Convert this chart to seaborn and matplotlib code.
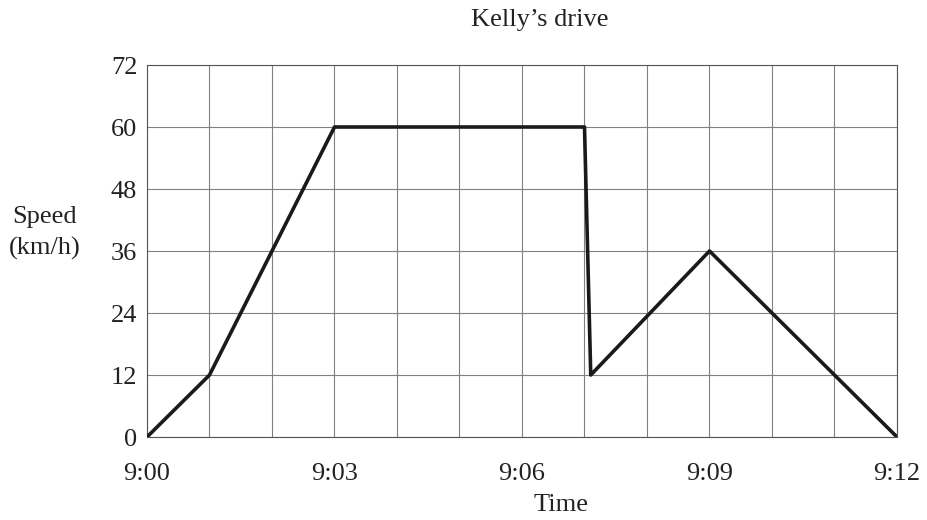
import matplotlib
matplotlib.use('Agg')
import matplotlib.pyplot as plt
import matplotlib.ticker as mtick
import pandas as pd
import seaborn as sns

# minutes after 9:00 and speed in km/h
minutes = [0, 1, 3, 7, 7.1, 9, 12]
speed = [0, 12, 60, 60, 12, 36, 0]
time_labels = ['9:00', '9:03', '9:06', '9:09', '9:12']
speed_ticks = [0, 12, 24, 36, 48, 60, 72]

drive = pd.DataFrame({'minutes': minutes, 'speed': speed})

sns.set_style('white')
plt.rcParams['font.family'] = ['Liberation Serif', 'DejaVu Serif']

fig = plt.figure(figsize=(9.28, 5.2), dpi=100)
ax = fig.add_axes([147 / 928, 1 - 437 / 520, 750 / 928, 372 / 520])

sns.lineplot(data=drive, x='minutes', y='speed', color='#1a1a1a', linewidth=2.6,
             ax=ax, sort=False, zorder=3)

ax.set_xlim(0, 12)
ax.set_ylim(0, 72)
ax.set_xticks([0, 3, 6, 9, 12])
ax.set_xticklabels(time_labels)
ax.xaxis.set_minor_locator(mtick.MultipleLocator(1))
ax.set_yticks(speed_ticks)
ax.set_yticklabels([str(v) for v in speed_ticks])

ax.grid(which='both', axis='x', color='#808080', linewidth=0.8)
ax.grid(which='major', axis='y', color='#808080', linewidth=0.8)
ax.tick_params(which='both', length=0, labelsize=19, colors='#222222')
ax.tick_params(axis='x', pad=19)
ax.tick_params(axis='y', pad=7)
for s in ax.spines.values():
    s.set_color('#555555')
    s.set_linewidth(0.8)

ax.set_xlabel('')
ax.set_ylabel('')
fig.text(561 / 928, 1 - 505 / 520, 'Time', ha='center', va='center', fontsize=19, color='#222222')
fig.text(45 / 928, 1 - 233 / 520, 'Speed\n(km/h)', ha='center', va='center', fontsize=19,
         color='#222222', linespacing=1.45)
fig.text(540 / 928, 1 - 20 / 520, 'Kelly\u2019s drive', ha='center', va='center', fontsize=19,
         color='#222222')

plt.savefig('out.png', dpi=100)
